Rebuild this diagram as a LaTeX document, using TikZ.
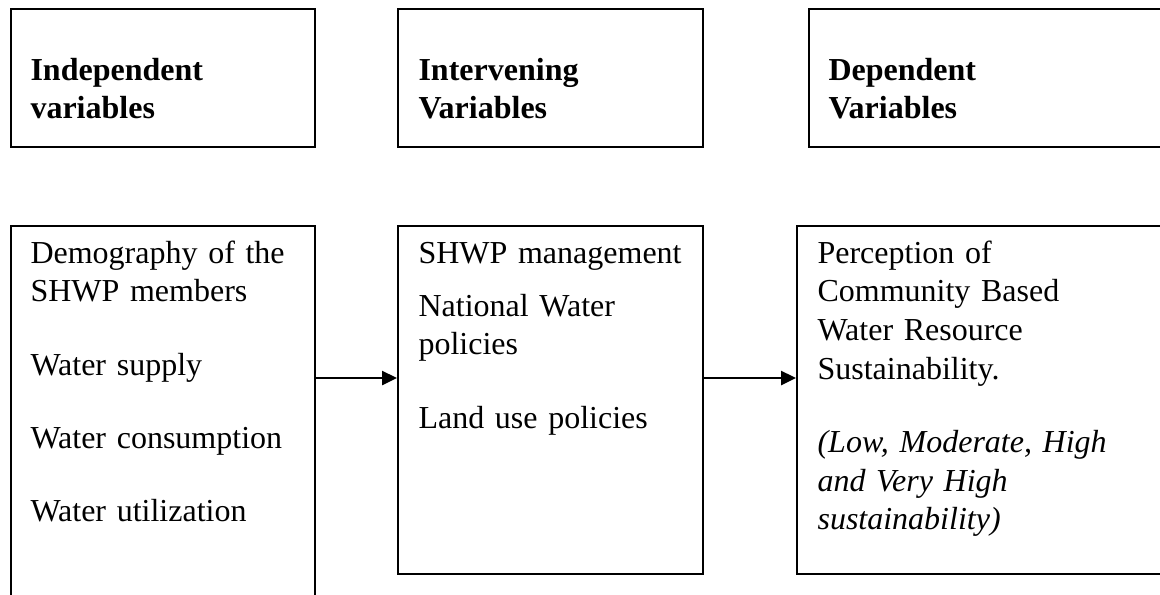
\documentclass[tikz,border=0pt]{standalone}
\usepackage{fontspec}
\setmainfont{Liberation Serif}
\usetikzlibrary{arrows.meta}
\tikzset{varbox/.style = {draw, line width=0.8pt, inner sep=0pt, anchor=north west}}
\tikzset{vartext/.style = {anchor=base west, inner sep=0pt, align=left, text width=125pt, font=\fontsize{12}{14.5}\selectfont}}
\tikzset{flow/.style = {-{Triangle[length=5.6pt, width=5.2pt]}, line width=1pt}}

\begin{document}
\begin{tikzpicture}[x=0.375pt, y=-0.375pt]
\useasboundingbox (0,0) rectangle (1160,594);
\clip (0,0) rectangle (1160,594);
\node[varbox, minimum width=114pt, minimum height=51.75pt] (indhead) at (10,8) {};
\node[varbox, minimum width=114.4pt, minimum height=51.75pt] (inthead) at (397,8) {};
\node[varbox, minimum width=137.6pt, minimum height=51.75pt] (dephead) at (808,8) {};
\node[varbox, minimum width=114pt, minimum height=148.1pt] (indbox) at (10,225) {};
\node[varbox, minimum width=114.4pt, minimum height=130.5pt] (intbox) at (397,225) {};
\node[varbox, minimum width=142.1pt, minimum height=130.5pt] (depbox) at (796,225) {};
\node[vartext] (indlabel) at ([shift={(20,72)}]indhead.north west) {\textbf{Independent}\\\textbf{variables}};
\node[vartext] (intlabel) at ([shift={(21,72)}]inthead.north west) {\textbf{Intervening}\\\textbf{Variables}};
\node[vartext] (deplabel) at ([shift={(20,72)}]dephead.north west) {\textbf{Dependent}\\\textbf{Variables}};
\node[vartext] (indlist) at ([shift={(20,38)}]indbox.north west) {Demography of the\\SHWP members\\[13pt]Water supply\\[13pt]Water consumption\\[13pt]Water utilization};
\node[vartext] (intlist) at ([shift={(21,38)}]intbox.north west) {SHWP management\\[5.4pt]National Water\\policies\\[13pt]Land use policies};
\node[vartext] (deplist) at ([shift={(21,38)}]depbox.north west) {Perception of\\Community Based\\Water Resource\\Sustainability.\\[13pt]{\itshape (Low, Moderate, High\\and Very High\\sustainability)}};
\coordinate (flowrow) at (0,378);
\draw[flow] (indbox.east |- flowrow) -- (intbox.west |- flowrow);
\draw[flow] (intbox.east |- flowrow) -- (depbox.west |- flowrow);
\end{tikzpicture}
\end{document}
